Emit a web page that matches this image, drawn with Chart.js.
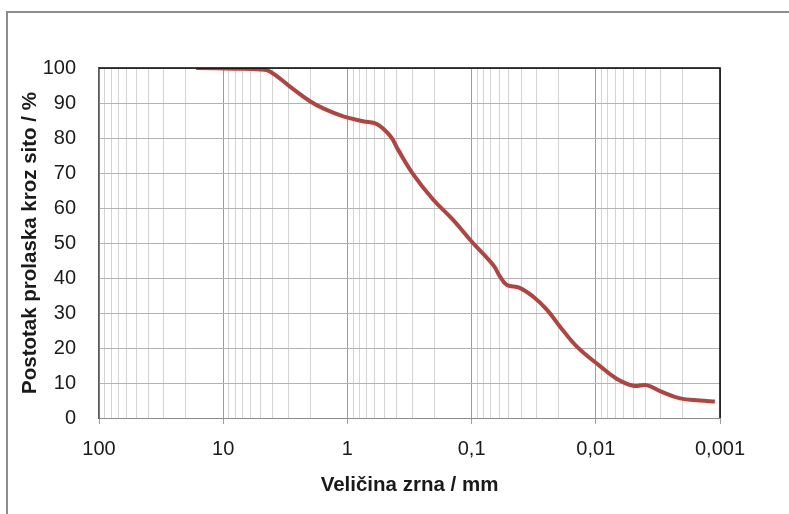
<!DOCTYPE html>
<html>
<head>
<meta charset="utf-8">
<script src="https://cdn.jsdelivr.net/npm/chart.js@4"></script>
<style>
    html, body { margin: 0; padding: 0; background: #fff; }
    #wrap { position: relative; width: 789px; height: 514px; overflow: hidden; }
    #frame {
        position: absolute; left: 6px; top: 11px; width: 900px; height: 600px;
        border-top: 2px solid #8c8c8c; border-left: 2px solid #8c8c8c;
    }
    canvas { position: absolute; left: 0; top: 0; }
</style>
</head>
<body>
<div id="wrap">
    <div id="frame"></div>
    <canvas id="gradingChart" width="789" height="514"></canvas>
</div>
<script>
// grain size (mm) and percent passing
const grainSize = [16.5, 8, 5, 4.2, 2.9, 2.0, 1.55, 1.08, 0.75, 0.58, 0.45, 0.39, 0.296, 0.205, 0.141, 0.0975,
    0.067, 0.059, 0.052, 0.041, 0.032, 0.0247, 0.0194, 0.0142, 0.0093, 0.0068, 0.005, 0.0039, 0.003, 0.0021, 0.00145, 0.0011];
const passing = [100, 99.8, 99.6, 99.0, 94.7, 90.5, 88.4, 86.2, 84.8, 84.0, 80.5, 76.6, 69.7, 62.5, 56.6, 50.0,
    43.7, 40.4, 38.0, 37.2, 34.7, 30.9, 26.1, 20.4, 14.9, 11.2, 9.2, 9.4, 7.6, 5.6, 5.0, 4.7];

const xDecades = [100, 10, 1, 0.1, 0.01, 0.001];
const xTickLabels = ['100', '10', '1', '0,1', '0,01', '0,001'];
const xMinorSteps = [1, 2, 3, 4, 5, 6, 7, 8, 9];

const FONT = "'Liberation Sans', Arial, sans-serif";

function isDecade(v) {
    const l = Math.log10(v);
    return Math.abs(l - Math.round(l)) < 1e-6;
}

const frameBorder = {
    id: 'frameBorder',
    afterDatasetsDraw(chart) {
        const { ctx, chartArea: a } = chart;
        ctx.save();
        ctx.strokeStyle = '#000';
        ctx.lineWidth = 1.5;
        ctx.beginPath();
        ctx.moveTo(a.left, a.top);
        ctx.lineTo(a.right, a.top);
        ctx.lineTo(a.right, a.bottom);
        ctx.stroke();
        ctx.restore();
    }
};

function initChart() {
    const ctx = document.getElementById('gradingChart').getContext('2d');
    new Chart(ctx, {
        type: 'scatter',
        data: {
            datasets: [{
                data: grainSize.map((s, i) => ({ x: s, y: passing[i] })),
                showLine: true,
                borderColor: '#b0443f',
                borderWidth: 4,
                pointRadius: 0,
                tension: 0.4
            }]
        },
        options: {
            responsive: false,
            animation: false,
            layout: { padding: { top: 68, right: 69, left: 0, bottom: 0 } },
            plugins: { legend: { display: false }, tooltip: { enabled: false } },
            scales: {
                x: {
                    type: 'logarithmic',
                    reverse: true,
                    min: 0.001,
                    max: 100,
                    afterBuildTicks: function (scale) {
                        const ticks = [];
                        for (let e = -3; e <= 1; e++) {
                            xMinorSteps.forEach(m => ticks.push({ value: m * Math.pow(10, e) }));
                        }
                        ticks.push({ value: 100 });
                        scale.ticks = ticks;
                    },
                    afterFit: function (scale) { scale.height = 96; },
                    border: { color: '#8c8c8c', width: 1 },
                    grid: {
                        color: c => isDecade(c.tick.value) ? '#9e9e9e' : '#d4d4d4',
                        tickColor: c => isDecade(c.tick.value) ? '#9e9e9e' : 'rgba(0,0,0,0)',
                        tickLength: 6
                    },
                    ticks: {
                        autoSkip: false,
                        maxRotation: 0,
                        padding: 13,
                        color: '#1a1a1a',
                        font: { family: FONT, size: 20 },
                        callback: function (value) {
                            const i = xDecades.findIndex(d => Math.abs(Math.log10(d) - Math.log10(value)) < 1e-6);
                            return i >= 0 ? xTickLabels[i] : '';
                        }
                    },
                    title: {
                        display: true,
                        text: 'Veličina zrna / mm',
                        color: '#1a1a1a',
                        font: { family: FONT, size: 20.5, weight: 'bold' },
                        padding: { top: 0, bottom: 16 }
                    }
                },
                y: {
                    min: 0,
                    max: 100,
                    afterFit: function (scale) { scale.width = 99; },
                    border: { color: '#595959', width: 1.5 },
                    grid: { color: '#b3b3b3', drawTicks: false },
                    ticks: {
                        stepSize: 10,
                        padding: 23,
                        color: '#1a1a1a',
                        font: { family: FONT, size: 20 }
                    },
                    title: {
                        display: true,
                        text: 'Postotak prolaska kroz sito / %',
                        color: '#1a1a1a',
                        font: { family: FONT, size: 20.5, weight: 'bold' },
                        padding: { top: 18, bottom: 0 }
                    }
                }
            }
        },
        plugins: [frameBorder]
    });
}

initChart();
</script>
</body>
</html>
